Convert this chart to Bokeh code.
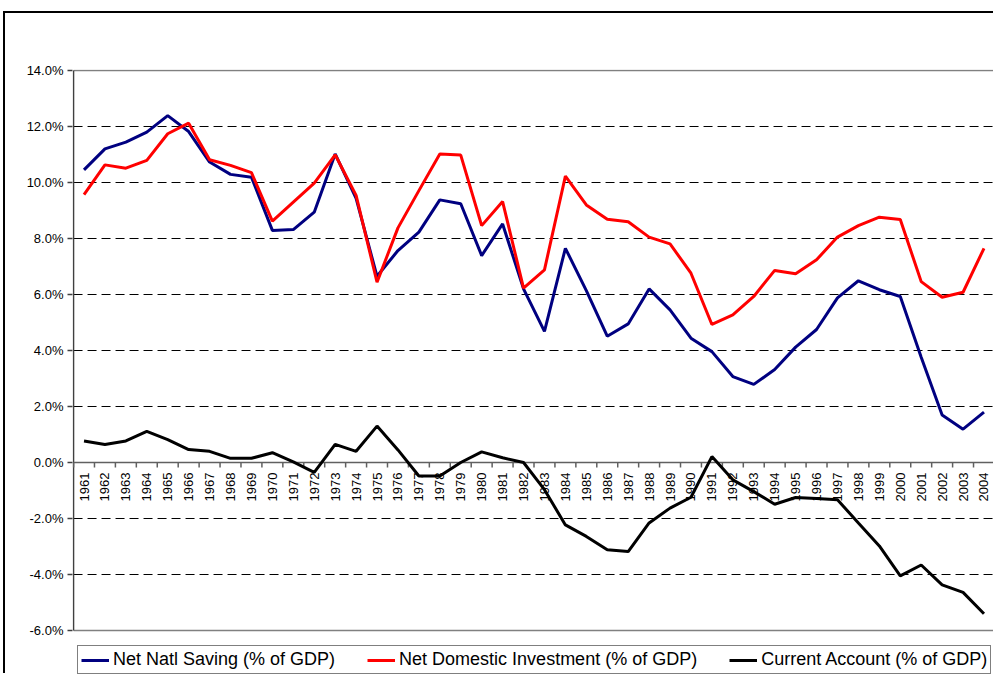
import math
from bokeh.plotting import figure
from bokeh.models import (ColumnDataSource, Range1d, FixedTicker, Legend, LegendItem,
                          PrintfTickFormatter)
from bokeh.core.properties import value
from bokeh.embed import file_html
from bokeh.resources import INLINE

# ---------------- data ----------------
years = list(range(1961, 2005))
year_labels = [str(y) for y in years]

saving = [10.45, 11.20, 11.44, 11.80, 12.39, 11.82, 10.73, 10.29, 10.19, 8.29,
          8.32, 8.94, 11.02, 9.43, 6.65, 7.57, 8.23, 9.38, 9.24, 7.39,
          8.52, 6.20, 4.68, 7.65, 6.14, 4.51, 4.95, 6.20, 5.45, 4.44,
          3.96, 3.07, 2.79, 3.32, 4.12, 4.75, 5.88, 6.49, 6.17, 5.93,
          3.76, 1.70, 1.19, 1.80]

investment = [9.57, 10.63, 10.51, 10.79, 11.74, 12.12, 10.81, 10.61, 10.35, 8.62,
              9.30, 9.98, 10.99, 9.54, 6.44, 8.38, 9.71, 11.02, 10.98, 8.46,
              9.32, 6.23, 6.88, 10.23, 9.20, 8.69, 8.60, 8.05, 7.81, 6.76,
              4.93, 5.27, 5.93, 6.86, 6.74, 7.24, 8.05, 8.46, 8.76, 8.68,
              6.46, 5.90, 6.08, 7.65]

current_account = [0.77, 0.64, 0.77, 1.11, 0.82, 0.46, 0.40, 0.15, 0.15, 0.35,
                   0.02, -0.35, 0.65, 0.40, 1.30, 0.45, -0.48, -0.48, 0.00, 0.38,
                   0.17, 0.00, -0.97, -2.23, -2.64, -3.12, -3.18, -2.16, -1.63, -1.24,
                   0.21, -0.62, -1.04, -1.49, -1.25, -1.29, -1.33, -2.16, -2.98, -4.05,
                   -3.66, -4.37, -4.64, -5.40]

y_ticks = [-6, -4, -2, 0, 2, 4, 6, 8, 10, 12, 14]

series_names = ["Net Natl Saving (% of GDP)",
                "Net Domestic Investment (% of GDP)",
                "Current Account (% of GDP)"]
series_colors = ["#000080", "#FF0000", "#000000"]

# ---------------- layout helpers ----------------
FONT = "Liberation Sans"
PX_PER_UNIT = 28.0          # vertical pixels per 1 percentage point
CANVAS_H = 662
TOP = 56
x_lo, x_hi = years[0] - 0.5, years[-1] + 0.5
y_lo, y_hi = y_ticks[0], y_ticks[-1]
frame_h = CANVAS_H - TOP
y_end = y_hi + 1.0 / PX_PER_UNIT
y_start = y_end - frame_h / PX_PER_UNIT

src = ColumnDataSource(dict(year=years, saving=saving,
                            investment=investment, current=current_account))

p = figure(width=990, height=CANVAS_H, output_backend="svg", toolbar_location=None,
           x_range=Range1d(x_lo - 0.05, x_hi + 0.05),
           y_range=Range1d(y_start, y_end),
           x_axis_location=None,
           min_border_left=67, min_border_right=0,
           min_border_top=TOP, min_border_bottom=0,
           background_fill_color="white", border_fill_color="white",
           styles={"position": "relative", "left": "3px", "top": "11px",
                   "border-top": "2px solid black", "border-left": "2px solid black"})

p.outline_line_color = None
p.xgrid.visible = False
p.ygrid.visible = False

# y axis (ticks + labels only; axis line drawn as glyph so it stops at -6%)
p.yaxis.ticker = FixedTicker(ticks=y_ticks)
p.yaxis.formatter = PrintfTickFormatter(format="%.1f%%")
p.yaxis.axis_line_color = None
p.yaxis.major_tick_out = 5
p.yaxis.major_tick_in = 0
p.yaxis.minor_tick_line_color = None
p.yaxis.major_tick_line_color = "#404040"
p.yaxis.major_tick_line_width = 1.5
p.yaxis.major_label_text_font = FONT
p.yaxis.major_label_text_font_size = "13px"
p.yaxis.major_label_text_color = "black"
p.yaxis.major_label_standoff = 4

# dashed gridlines
grid_vals = [t for t in y_ticks if t not in (y_lo, 0, y_hi)]
p.segment(x0=[x_lo] * len(grid_vals), x1=[x_hi] * len(grid_vals),
          y0=grid_vals, y1=grid_vals,
          line_color="black", line_width=1, line_dash="9 5")

# plot-area box (top, right, bottom in grey) and value axis line
p.line([x_lo, x_hi, x_hi, x_lo], [y_hi, y_hi, y_lo, y_lo],
       line_color="#808080", line_width=1.5)
p.line([x_lo, x_lo], [y_lo, y_hi], line_color="#404040", line_width=1.5)

# category axis crossing at 0: line, boundary ticks, rotated year labels
bounds = [y - 0.5 for y in years] + [x_hi]
p.line([x_lo, x_hi], [0, 0], line_color="#606060", line_width=1.5)
tick_len = 5 / PX_PER_UNIT
p.segment(x0=bounds, x1=bounds, y0=[0] * len(bounds), y1=[-tick_len] * len(bounds),
          line_color="#606060", line_width=1.5)
p.text(x=years, y=[0] * len(years), text=year_labels, angle=math.pi / 2,
       text_align="right", text_baseline="middle", y_offset=10,
       text_font=value(FONT), text_font_size=value("13px"), text_color="black")

# data lines
renderers = []
for col, color in zip(["saving", "investment", "current"], series_colors):
    r = p.line("year", col, source=src, line_color=color, line_width=3)
    renderers.append(r)

legend = Legend(items=[LegendItem(label=n, renderers=[r])
                       for n, r in zip(series_names, renderers)],
                orientation="horizontal", location=(5, 1),
                border_line_color="black", border_line_width=1,
                background_fill_color="white", background_fill_alpha=1,
                label_text_font=FONT, label_text_font_size="18px",
                label_text_color="black",
                glyph_width=28, glyph_height=18, label_height=18,
                label_standoff=4, spacing=32, padding=3, margin=0)
p.add_layout(legend)

open("out.html", "w").write(file_html(p, INLINE))
